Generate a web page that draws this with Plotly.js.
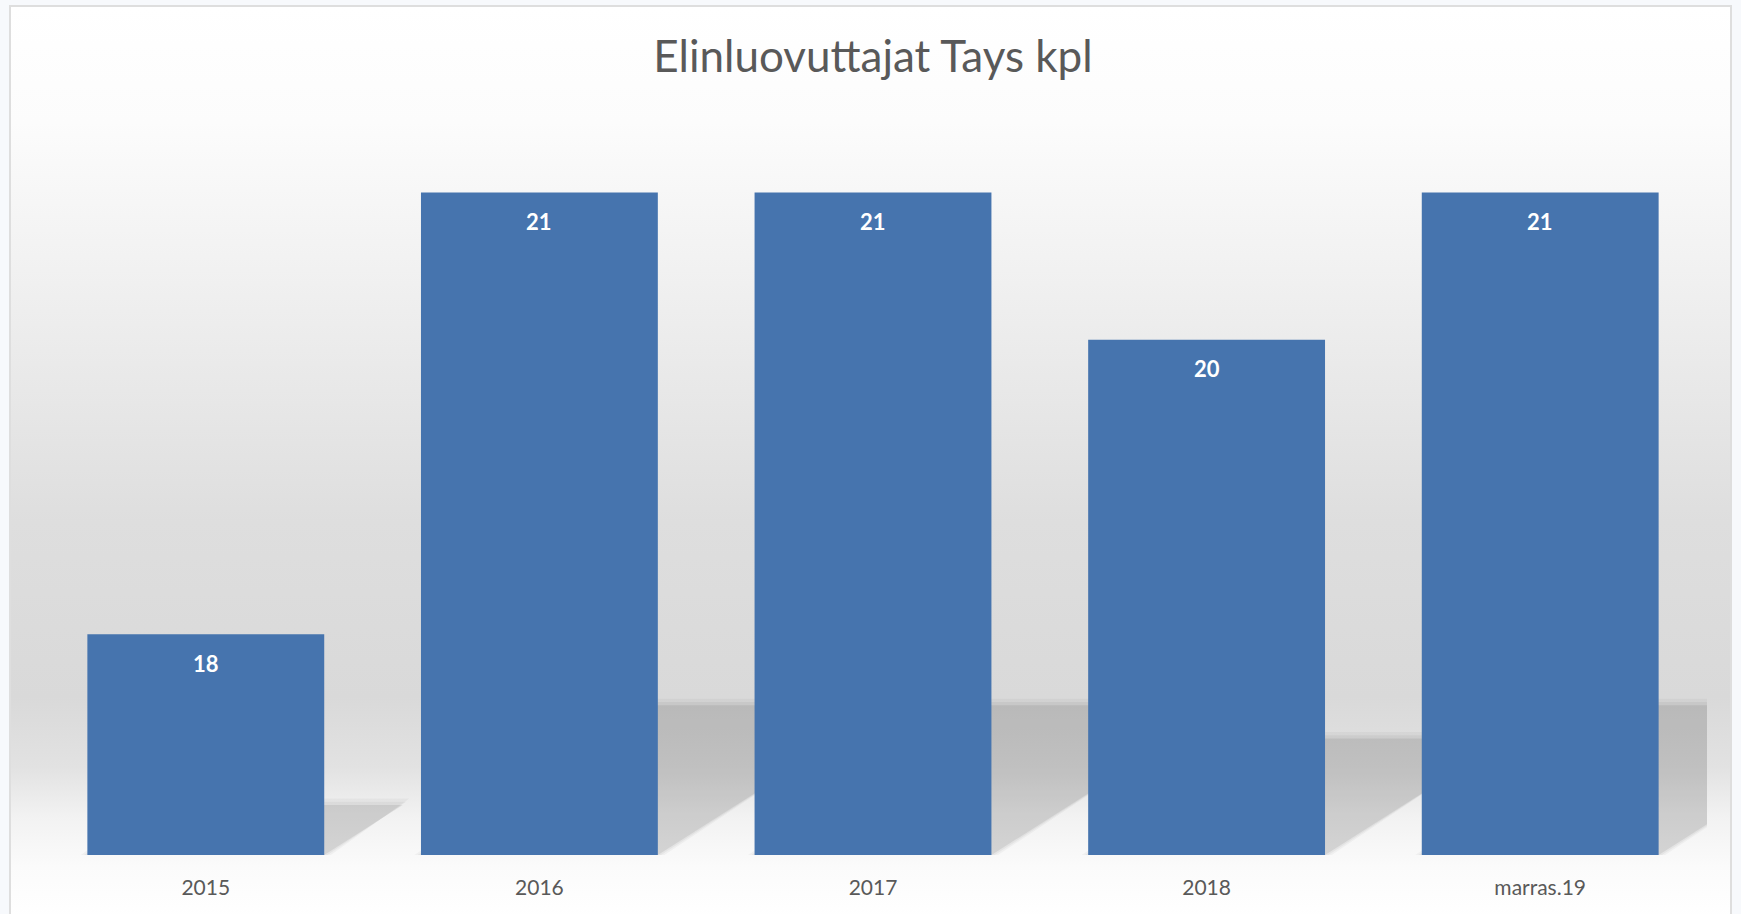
<!DOCTYPE html>
<html>
<head>
<meta charset="utf-8">
<script src="https://cdn.plot.ly/plotly-3.0.1.min.js"></script>
<style>
  html, body { margin:0; padding:0; }
  body { width:1741px; height:914px; overflow:hidden; background:#f7f9fc; position:relative; }
  #bg { position:absolute; left:9px; top:5px; width:1723px; height:930px;
        border:2px solid #dedede; box-sizing:border-box;
        background: linear-gradient(to bottom,
          #ffffff 0px, #fcfcfc 115px, #ececec 330px, #dedede 515px,
          #d9d9d9 690px, #e2e2e2 760px, #f2f2f2 810px, #fbfbfb 860px, #ffffff 914px); }
  #chart { position:absolute; left:0; top:0; width:1741px; height:914px; }
</style>
</head>
<body>
<div id="bg"></div>
<div id="chart"></div>
<script>
// ---- data ----
const categories = ['2015', '2016', '2017', '2018', 'marras.19'];
const values = [18, 21, 21, 20, 21];
const chartTitle = 'Elinluovuttajat Tays kpl';

// ---- style ----
const yMin = 16.5, yMax = 21.5;
const barGap = 0.29;
const halfW = (1 - barGap) / 2;
const shadowSkew = 0.157;   // category units per value unit
const shadowRise = 0.226;   // value units per value unit
const idx = categories.map((c, i) => i);

const traces = [];
// perspective shadows (drawn beneath the bars, on the base subplot)
const blur = [[0.02, 0.045, 0.035], [0.01, 0.022, 0.045], [0, 0, 0.075]];
values.forEach((v, i) => {
  const h = v - yMin;
  blur.forEach(([ex, ey, a]) => {
    const top = yMin + shadowRise * h + ey;
    const sx = shadowSkew * h;
    traces.push({
      type: 'scatter', mode: 'lines', fill: 'toself',
      x: [i - halfW - ex, i + halfW + ex, i + halfW + sx + ex, i - halfW + sx - ex, i - halfW - ex],
      y: [yMin, yMin, top, top, yMin],
      line: { width: 0 }, fillcolor: 'rgba(0,0,0,' + a + ')',
      hoverinfo: 'skip', showlegend: false, xaxis: 'x', yaxis: 'y'
    });
  });
});

// bars on an overlaid subplot so they sit on top of the shadows
traces.push({
  type: 'bar', x: idx, y: values, xaxis: 'x2', yaxis: 'y2',
  marker: { color: '#4674ae', line: { width: 0 } },
  hovertext: categories, hoverinfo: 'text+y', showlegend: false
});

const annotations = values.map((v, i) => ({
  x: i, y: v, xref: 'x2', yref: 'y2', text: String(v), showarrow: false,
  yanchor: 'middle', yshift: -29,
  font: { family: 'Lato', size: 22, color: '#ffffff', weight: 700 }
}));

const layout = {
  width: 1741, height: 914,
  paper_bgcolor: 'rgba(0,0,0,0)', plot_bgcolor: 'rgba(0,0,0,0)',
  margin: { l: 39, r: 34, t: 119, b: 59, pad: 0 },
  bargap: barGap,
  showlegend: false,
  title: {
    text: chartTitle, x: 0.5, xref: 'paper', xanchor: 'center',
    y: 1 - 57 / 914, yref: 'container', yanchor: 'middle',
    font: { family: 'Lato', size: 44, color: '#595959' }
  },
  xaxis: {
    range: [-0.5, 4.5], tickmode: 'array', tickvals: idx, ticktext: categories,
    showgrid: false, zeroline: false, showline: false, ticks: '',
    tickfont: { family: 'Lato', size: 21, color: '#595959' },
    ticklabelstandoff: 18, fixedrange: true
  },
  yaxis: { range: [yMin, yMax], visible: false, fixedrange: true },
  xaxis2: { overlaying: 'x', range: [-0.5, 4.5], visible: false, fixedrange: true },
  yaxis2: { overlaying: 'y', range: [yMin, yMax], visible: false, fixedrange: true },
  annotations: annotations
};

Plotly.newPlot('chart', traces, layout, { displayModeBar: false, staticPlot: true });
</script>
</body>
</html>
